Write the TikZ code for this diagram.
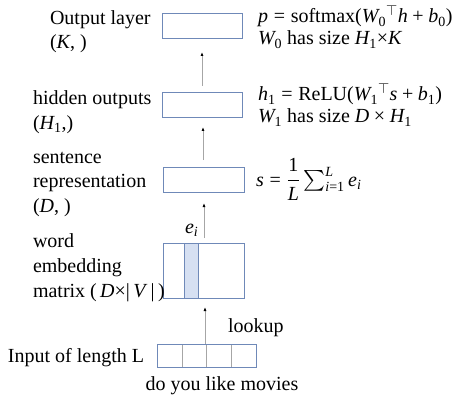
\documentclass[tikz,border=0pt]{standalone}
\usepackage{amsmath}
\usepackage{fontspec}
\setmainfont{Liberation Serif}
\usetikzlibrary{arrows.meta}
\definecolor{boxblue}{HTML}{6F89B8}
\definecolor{fillblue}{HTML}{D6E0F2}
\definecolor{linegray}{HTML}{A6A6A6}
\newcommand{\vi}[1]{\textit{#1}}
\newcommand{\vu}[1]{\textup{#1}}
\newcommand{\teq}{\mathrel{\textup{=}}}
\newcommand{\tplus}{\mathbin{\textup{+}}}
\newcommand{\ttimes}{\mathbin{\textup{×}}}
\newcommand{\lp}{\mathopen{\textup{(}}}
\newcommand{\rp}{\mathclose{\textup{)}}}
\begin{document}
\begin{tikzpicture}[x=1pt,y=-1pt,
  every node/.style={inner sep=0pt,outer sep=0pt,font=\fontsize{20}{24}\selectfont},
  lbl/.style={anchor=base west},
  layerbox/.style={draw=boxblue,line width=0.9pt},
  flow/.style={draw=linegray,line width=0.8pt,-{Latex[length=4pt,width=3pt,black]}}]
\useasboundingbox (0,0) rectangle (454,398);
% boxes
\node[layerbox,minimum width=80pt,minimum height=25pt,anchor=north west] (out) at (162,13) {};
\node[layerbox,minimum width=80pt,minimum height=25pt,anchor=north west] (hid) at (162,92) {};
\node[layerbox,minimum width=81pt,minimum height=25pt,anchor=north west] (sent) at (163,167) {};
\node[minimum width=81pt,minimum height=55pt,anchor=north west] (emb) at (163,243) {};
\fill[fillblue] (184,243) rectangle (198,298);
\draw[boxblue,line width=0.9pt] (184,243) -- (184,298) (198,243) -- (198,298);
\draw[boxblue,line width=0.9pt] (emb.north west) rectangle (emb.south east);
\node[minimum width=99pt,minimum height=23pt,anchor=north west] (inp) at (157,344) {};
\draw[linegray,line width=0.8pt] (182,344) -- (182,367) (206,344) -- (206,367) (231,344) -- (231,367);
\draw[boxblue,line width=0.9pt] (inp.north west) rectangle (inp.south east);
% arrows
\coordinate (a1s) at (205,344); \coordinate (a1e) at (205,307);
\coordinate (a2s) at (204,238); \coordinate (a2e) at (204,203);
\coordinate (a3s) at (203,160); \coordinate (a3e) at (203,127);
\coordinate (a4s) at (202,86);  \coordinate (a4e) at (202,52);
\draw[flow] (a1s) -- (a1e);
\draw[flow] (a2s) -- (a2e);
\draw[flow] (a3s) -- (a3e);
\draw[flow] (a4s) -- (a4e);
% left labels
\node[lbl] (t1) at (50,25) {Output layer};
\node[lbl] (t2) at (50,49) {(\vi{K}, )};
\node[lbl] (t3) at (33,105) {hidden outputs};
\node[lbl] (t4) at (33,129) {($\vi{H}_{\vu{1}}$,)};
\node[lbl] (t5) at (33,163) {sentence};
\node[lbl] (t6) at (33,187) {representation};
\node[lbl] (t7) at (33,212) {(\vi{D}, )};
\node[lbl] (t8) at (33,247) {word};
\node[lbl] (t9) at (33,272) {embedding};
\node[lbl] (t10) at (33,297) {matrix (\,\vi{D}×|\,\vi{V}\,|\,)};
\node[lbl] (t11) at (8,362) {Input of length L};
\node[anchor=base] (t12) at (222,390) {do you like movies};
\node[lbl] (t13) at (228,332) {lookup};
\node[lbl] (ei) at (185,233) {$\vi{e}_{\vi{i}}$};
% equations
\node[lbl] (e1) at (258,23) {$\vi{p} \teq \vu{softmax}\lp\vi{W}_{\vu{0}}{}^{\top}\vi{h} \tplus \vi{b}_{\vu{0}}\rp$};
\node[lbl] (e2) at (258,45) {$\vi{W}_{\vu{0}}$ has size $\vi{H}_{\vu{1}}{\textup{×}}\vi{K}$};
\node[lbl] (e3) at (258,101) {$\vi{h}_{\vu{1}} \teq \vu{ReLU}\lp\vi{W}_{\vu{1}}{}^{\top}\vi{s} \tplus \vi{b}_{\vu{1}}\rp$};
\node[lbl] (e4) at (258,123) {$\vi{W}_{\vu{1}}$ has size $\vi{D}\ttimes\vi{H}_{\vu{1}}$};
\node[lbl] (e5) at (256,186) {$\displaystyle \vi{s} \teq \frac{\vu{1}}{\vi{L}}\textstyle\sum_{\vi{i}\teq\vu{1}}^{\vi{L}}\vi{e}_{\vi{i}}$};
\end{tikzpicture}
\end{document}
